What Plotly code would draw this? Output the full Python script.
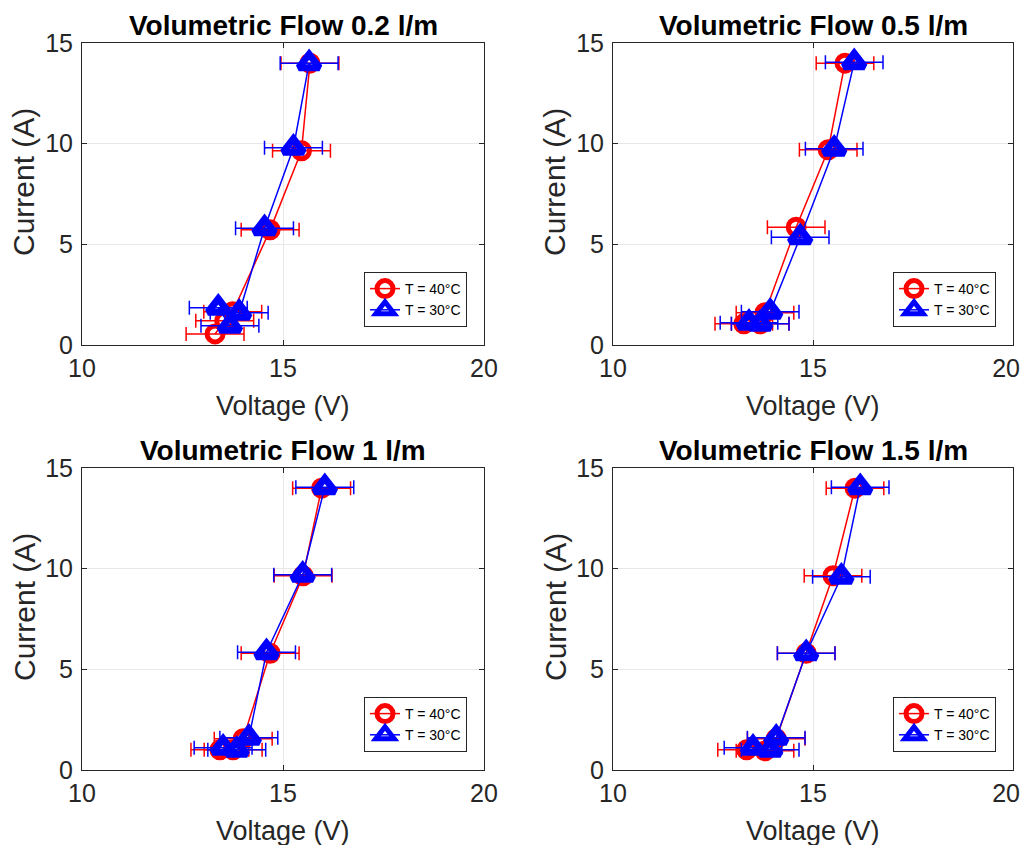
import plotly.graph_objects as go

# the page adds an 8 px body margin, so the figure is drawn 8 px smaller
OFF = 8
W, H = 1029 - OFF, 845 - OFF

titles = ["Volumetric Flow 0.2 l/m", "Volumetric Flow 0.5 l/m",
          "Volumetric Flow 1 l/m", "Volumetric Flow 1.5 l/m"]
legend_names = ["T = 40°C", "T = 30°C"]
x_title = "Voltage (V)"
y_title = "Current (A)"

# Volumetric flow 0.2 l/m
red_V_02 = [13.31, 13.55, 13.75, 14.68, 15.46, 15.67]
red_I_02 = [0.55, 1.2, 1.65, 5.72, 9.65, 14.0]
blue_V_02 = [13.68, 13.39, 13.91, 14.54, 15.26, 15.65]
blue_I_02 = [0.95, 1.85, 1.6, 5.8, 9.8, 14.0]

# Volumetric flow 0.5 l/m
red_V_05 = [13.27, 13.68, 13.8, 14.58, 15.38, 15.8]
red_I_05 = [1.05, 1.05, 1.6, 5.85, 9.7, 14.0]
blue_V_05 = [13.4, 13.68, 13.93, 14.68, 15.53, 16.03]
blue_I_05 = [1.1, 1.05, 1.65, 5.35, 9.75, 14.05]

# Volumetric flow 1 l/m
red_V_10 = [13.43, 13.76, 14.01, 14.68, 15.5, 15.96]
red_I_10 = [1.0, 1.0, 1.55, 5.8, 9.65, 14.0]
blue_V_10 = [13.51, 13.85, 14.15, 14.59, 15.49, 16.04]
blue_I_10 = [1.1, 1.0, 1.6, 5.85, 9.7, 14.05]

# Volumetric flow 1.5 l/m
red_V_15 = [13.34, 13.8, 14.08, 14.83, 15.5, 16.05]
red_I_15 = [1.0, 0.95, 1.55, 5.8, 9.65, 14.0]
blue_V_15 = [13.5, 13.93, 14.08, 14.83, 15.71, 16.18]
blue_I_15 = [1.1, 1.0, 1.6, 5.8, 9.6, 14.05]

# voltage uncertainty (V)
red_err = [0.72, 0.72, 0.72, 0.72, 0.72, 0.72]
blue_err = [0.72, 0.72, 0.72, 0.72, 0.72, 0.72]

x_ticks = [10, 15, 20]
x_ticktext = ["10", "15", "20"]
y_ticks = [0, 5, 10, 15]

panels = [
    (red_V_02, red_I_02, blue_V_02, blue_I_02),
    (red_V_05, red_I_05, blue_V_05, blue_I_05),
    (red_V_10, red_I_10, blue_V_10, blue_I_10),
    (red_V_15, red_I_15, blue_V_15, blue_I_15),
]

# pixel boxes of the axes in the screenshot (left, right, top, bottom)
boxes = [(82, 484, 43, 345), (613, 1013, 43, 345),
         (82, 484, 468, 770), (613, 1013, 468, 770)]

ML, MT = 82 - OFF, 43 - OFF
MR, MB = W - (1013 - OFF), H - (770 - OFF)
PW, PH = W - ML - MR, H - MT - MB


def px(p):
    return (p - OFF - ML) / PW


def py(p):
    return (H - MB - (p - OFF)) / PH


FONT = "Liberation Sans, Arial, sans-serif"
AXC = "#262626"

fig = go.Figure()
layout = dict(
    width=W, height=H,
    margin=dict(l=ML, r=MR, t=MT, b=MB, autoexpand=False),
    paper_bgcolor="white", plot_bgcolor="white",
    font=dict(family=FONT, color=AXC),
    showlegend=True,
    annotations=[],
)

for k, ((rV, rI, bV, bI), (x0, x1, y0, y1)) in enumerate(zip(panels, boxes)):
    n = k + 1
    xa = "x" if n == 1 else f"x{n}"
    ya = "y" if n == 1 else f"y{n}"
    lg = "legend" if n == 1 else f"legend{n}"
    fig.add_trace(go.Scatter(
        x=rV, y=rI, xaxis=xa, yaxis=ya, legend=lg, name=legend_names[0],
        mode="lines+markers",
        line=dict(color="#ff0000", width=1.5),
        marker=dict(symbol="circle-open", size=16, color="#ff0000",
                    line=dict(width=5, color="#ff0000")),
        error_x=dict(type="data", array=red_err, visible=True,
                     color="#ff0000", thickness=1.5, width=7),
    ))
    fig.add_trace(go.Scatter(
        x=bV, y=bI, xaxis=xa, yaxis=ya, legend=lg, name=legend_names[1],
        mode="lines+markers",
        line=dict(color="#0000ff", width=1.5),
        marker=dict(symbol="triangle-up-open", size=18, color="#0000ff",
                    line=dict(width=7, color="#0000ff")),
        error_x=dict(type="data", array=blue_err, visible=True,
                     color="#0000ff", thickness=1.5, width=7),
    ))
    axcommon = dict(showline=True, linecolor=AXC, linewidth=1, mirror="ticks",
                    ticks="inside", ticklen=5, tickcolor=AXC,
                    showgrid=True, gridcolor="#e8e8e8", gridwidth=1,
                    zeroline=False, automargin=False,
                    tickfont=dict(size=25, family=FONT, color=AXC))
    # right-hand column: pad the last label so it stays inside the page
    ttext = list(x_ticktext)
    if k % 2 == 1:
        ttext[-1] = ttext[-1] + "\u00a0\u00a0"
    layout["xaxis" if n == 1 else f"xaxis{n}"] = dict(
        domain=[px(x0), px(x1)], range=[10, 20], tickvals=x_ticks,
        ticktext=ttext, anchor=ya, ticklabelstandoff=1,
        ticklabeloverflow="allow", **axcommon)
    layout["yaxis" if n == 1 else f"yaxis{n}"] = dict(
        domain=[py(y1), py(y0)], range=[0, 15], tickvals=y_ticks, anchor=xa,
        ticklabelstandoff=3, **axcommon)
    layout["legend" if n == 1 else f"legend{n}"] = dict(
        x=(x1 - 17 - OFF) / W, y=1 - (y1 - 18 - OFF) / H,
        xref="container", yref="container",
        xanchor="right", yanchor="bottom",
        bgcolor="white", bordercolor=AXC, borderwidth=1,
        font=dict(size=14, family=FONT, color="black"),
        itemwidth=30, tracegroupgap=0,
    )
    cx = (x0 + x1) / 2
    # panel title
    layout["annotations"].append(dict(
        text=f"<b>{titles[k]}</b>", x=px(cx), y=py(y0 - 18),
        xref="paper", yref="paper", xanchor="center", yanchor="middle",
        showarrow=False, font=dict(size=28, family=FONT, color="black"),
    ))
    # x axis title
    layout["annotations"].append(dict(
        text=x_title, x=px(cx), y=py(y1 + 61),
        xref="paper", yref="paper", xanchor="center", yanchor="middle",
        showarrow=False, font=dict(size=27, family=FONT, color=AXC),
    ))
    # y axis title
    layout["annotations"].append(dict(
        text=y_title, x=px(x0 - 58), y=py((y0 + y1) / 2 - 12), textangle=-90,
        xref="paper", yref="paper", xanchor="center", yanchor="middle",
        showarrow=False, font=dict(size=30, family=FONT, color=AXC),
    ))

fig.update_layout(**layout)
fig.write_html("out.html")
